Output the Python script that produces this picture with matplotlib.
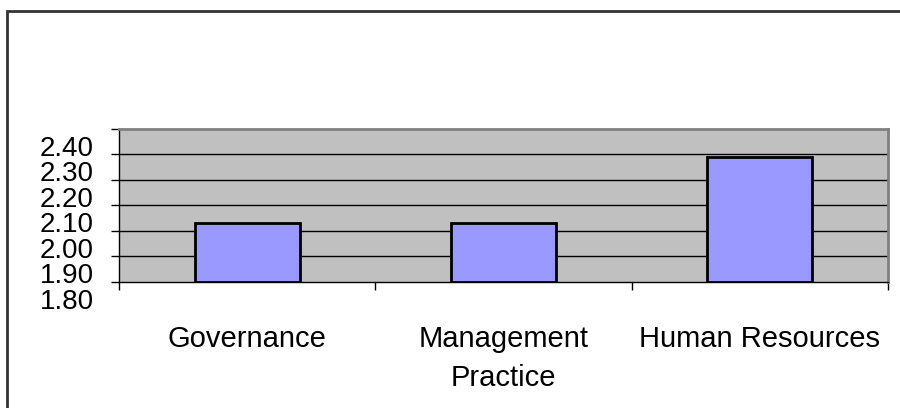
import matplotlib
matplotlib.use('Agg')
import matplotlib.pyplot as plt
import matplotlib.transforms as mtransforms
from matplotlib.patches import Rectangle
import numpy as np

plt.rcParams['font.family'] = ['Liberation Sans', 'DejaVu Sans']

categories = ['Governance', 'Management\nPractice', 'Human Resources']
scores = [2.03, 2.03, 2.29]
y_ticks = [1.80, 1.90, 2.00, 2.10, 2.20, 2.30, 2.40]

fig = plt.figure(figsize=(9, 4.08), dpi=100)
ax = fig.add_axes([119 / 900, 1 - 282 / 408, 769 / 900, 153 / 408])
ax.set_facecolor('#C0C0C0')

x = np.arange(len(categories))
ax.bar(x, np.array(scores) - 1.80, bottom=1.80, width=0.41,
       color='#9999FF', edgecolor='black', linewidth=2, zorder=3)

ax.set_xlim(-0.5, len(categories) - 0.5)
ax.set_ylim(1.80, 2.40)

# grid lines
for v in y_ticks[1:-1]:
    ax.axhline(v, color='black', lw=1, zorder=1)

ax.spines['top'].set_color('#808080')
ax.spines['right'].set_color('#808080')
ax.spines['top'].set_linewidth(2)
ax.spines['right'].set_linewidth(2)
ax.spines['left'].set_linewidth(1)
ax.spines['bottom'].set_linewidth(1)

# y ticks, labels sit a bit low
ax.set_yticks(y_ticks)
ax.set_yticklabels(['%.2f' % v for v in y_ticks])
ax.tick_params(axis='y', length=6, width=1, pad=12, labelsize=20)
offset = mtransforms.ScaledTranslation(0, -17 / 100, fig.dpi_scale_trans)
for lab in ax.get_yticklabels():
    lab.set_transform(lab.get_transform() + offset)

# x ticks at category boundaries, labels at centres
ax.set_xticks(np.arange(len(categories) + 1) - 0.5)
ax.set_xticklabels([])
ax.tick_params(axis='x', which='major', length=6, width=1)
ax.set_xticks(x, minor=True)
ax.set_xticklabels(categories, minor=True, fontsize=21)
ax.tick_params(axis='x', which='minor', length=0, pad=31)
for lab in ax.get_xticklabels(minor=True):
    lab.set_linespacing(1.5)

# outer chart border (right/bottom run off the image)
fig.add_artist(Rectangle((6.5 / 900, -0.1), 1.2, 1 - 10.5 / 408 + 0.1,
                         transform=fig.transFigure, fill=False,
                         edgecolor='#333333', lw=2))

fig.savefig('out.png', dpi=100)
